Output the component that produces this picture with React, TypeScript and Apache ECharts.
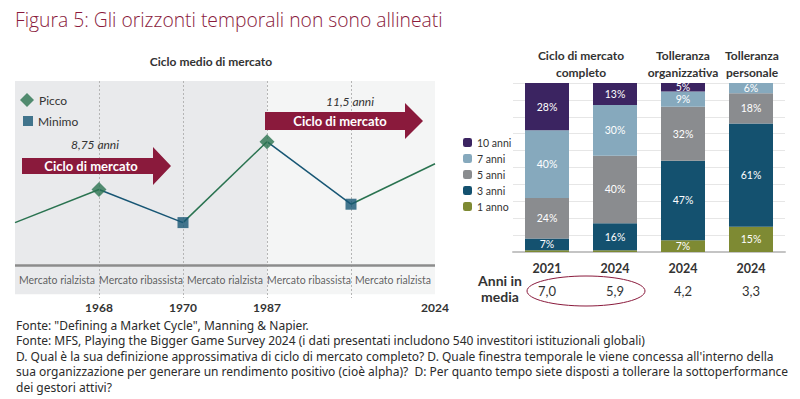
import React, { useEffect, useRef } from "react";
import * as echarts from "echarts";

// ---------- Left panel: average market cycle ----------
const cyclePositions = [0, 1, 2, 3, 4, 5];
const cycleLevels = [23, 41, 23, 67, 33, 55];
const peakIndex = [1, 3];
const troughIndex = [2, 4];
const cycleYears = ["", "1968", "1970", "1987", "", "2024"];
const phaseLabels = [
  "Mercato rialzista",
  "Mercato ribassista",
  "Mercato rialzista",
  "Mercato ribassista",
  "Mercato rialzista",
];
const cycleDurations = ["8,75 anni", "11,5 anni"];

// ---------- Right panel: horizons ----------
const barCategories = ["2021", "2024", "2024", "2024"];
const horizonNames = ["1 anno", "3 anni", "5 anni", "7 anni", "10 anni"];
const share1y = [1, 1, 7, 15];
const share3y = [7, 16, 47, 61];
const share5y = [24, 40, 32, 18];
const share7y = [40, 30, 9, 6];
const share10y = [28, 13, 5, 0.5];
const avgYears = ["7,0", "5,9", "4,2", "3,3"];

const footerLines = [
  'Fonte: "Defining a Market Cycle", Manning & Napier.',
  "Fonte: MFS, Playing the Bigger Game Survey 2024 (i dati presentati includono 540 investitori istituzionali globali)",
  "D. Qual è la sua definizione approssimativa di ciclo di mercato completo? D. Quale finestra temporale le viene concessa all'interno della",
  "sua organizzazione per generare un rendimento positivo (cioè alpha)?  D: Per quanto tempo siete disposti a tollerare la sottoperformance",
  "dei gestori attivi?",
];

const MAROON = "#8a1a3c";
const GREEN = "#2a7350";
const BLUE = "#175674";
const TXT = "#333333";
const FONT = "Lato, 'Noto Sans', sans-serif";
const horizonColors = ["#7e8a33", "#14516f", "#8a8c8f", "#86a9bd", "#3b2461"];

export default function App() {
  const ref = useRef<HTMLDivElement>(null);
  useEffect(() => {
    document.body.style.margin = "0";
    if (!ref.current) return;
    const chart = echarts.init(ref.current, undefined, { renderer: "svg" });

    const segs: any[] = [];
    for (let i = 0; i < cyclePositions.length - 1; i++) {
      const rising = cycleLevels[i + 1] > cycleLevels[i];
      segs.push({
        type: "line",
        xAxisIndex: 0,
        yAxisIndex: 0,
        symbol: "none",
        silent: true,
        z: 3,
        lineStyle: { color: rising ? GREEN : BLUE, width: 1.5 },
        data: [
          [cyclePositions[i], cycleLevels[i]],
          [cyclePositions[i + 1], cycleLevels[i + 1]],
        ],
      });
    }

    const shares = [share1y, share3y, share5y, share7y, share10y];
    const bars = horizonNames.map((name, k) => ({
      type: "bar",
      name,
      stack: "h",
      xAxisIndex: 1,
      yAxisIndex: 1,
      barWidth: 44,
      itemStyle: { color: horizonColors[k] },
      label: {
        show: true,
        position: "inside",
        color: "#ffffff",
        fontSize: 10.5,
        fontFamily: FONT,
        formatter: (p: any) => (p.value >= 5 ? `${p.value}%` : ""),
      },
      data: shares[k],
    }));

    const arrow = (x0: number, x1: number, xt: number, cy: number, hb: number, hh: number) => ({
      type: "polygon",
      shape: {
        points: [
          [x0, cy - hb],
          [x1, cy - hb],
          [x1, cy - hh],
          [xt, cy],
          [x1, cy + hh],
          [x1, cy + hb],
          [x0, cy + hb],
        ],
      },
      style: { fill: MAROON },
      z: 10,
    });

    const txt = (x: number, y: number, text: string, extra: any = {}) => ({
      type: "text",
      x,
      y,
      z: 11,
      style: {
        text,
        fill: TXT,
        fontFamily: FONT,
        fontSize: 12,
        align: "center",
        verticalAlign: "middle",
        ...extra,
      },
    });

    chart.setOption({
      animation: false,
      grid: [
        { left: 15, top: 81, width: 420, height: 217 },
        { left: 513, top: 83, width: 272, height: 169 },
      ],
      xAxis: [
        {
          type: "value",
          gridIndex: 0,
          min: 0,
          max: 5,
          interval: 1,
          axisLine: { show: false },
          axisTick: { show: false },
          splitLine: { show: false },
          axisLabel: {
            margin: 3,
            fontFamily: FONT,
            fontSize: 12,
            fontWeight: "bold",
            color: TXT,
            formatter: (v: number) => cycleYears[Math.round(v)] ?? "",
          },
        },
        {
          type: "category",
          gridIndex: 1,
          data: barCategories.map((_, i) => `c${i}`),
          axisLine: { lineStyle: { color: "#c4c4c4", width: 2 } },
          axisTick: { show: false },
          axisLabel: {
            margin: 10,
            fontFamily: FONT,
            fontSize: 12.5,
            fontWeight: "bold",
            color: TXT,
            formatter: (_: any, i: number) => barCategories[i],
          },
        },
        {
          type: "category",
          gridIndex: 1,
          position: "bottom",
          offset: 23,
          data: avgYears.map((_, i) => `a${i}`),
          axisLine: { show: false },
          axisTick: { show: false },
          axisLabel: {
            margin: 9,
            fontFamily: FONT,
            fontSize: 13,
            color: TXT,
            formatter: (_: any, i: number) => avgYears[i],
          },
        },
      ],
      yAxis: [
        { type: "value", gridIndex: 0, min: -18, max: 100, show: false },
        {
          type: "value",
          gridIndex: 1,
          min: 0,
          max: 100,
          interval: 10,
          axisLine: { show: false },
          axisTick: { show: false },
          axisLabel: { show: false },
          splitLine: { lineStyle: { color: "#e6e6e6", width: 1 } },
        },
      ],
      legend: [
        {
          data: ["Picco"],
          orient: "vertical",
          left: 15,
          top: 88,
          itemWidth: 14,
          itemHeight: 14,
          itemGap: 6,
          textStyle: { fontFamily: FONT, fontSize: 12, color: TXT },
          selectedMode: false,
        },
        {
          data: ["Minimo"],
          orient: "vertical",
          left: 18,
          top: 110,
          itemWidth: 10,
          itemHeight: 10,
          textStyle: { fontFamily: FONT, fontSize: 12, color: TXT },
          selectedMode: false,
        },
        {
          data: [...horizonNames].reverse(),
          orient: "vertical",
          left: 458,
          top: 132,
          itemWidth: 9,
          itemHeight: 9,
          itemGap: 5,
          textStyle: { fontFamily: FONT, fontSize: 10.5, color: TXT },
          selectedMode: false,
        },
      ],
      series: [
        {
          type: "line",
          xAxisIndex: 0,
          yAxisIndex: 0,
          data: [],
          silent: true,
          markArea: {
            silent: true,
            data: [
              [
                { xAxis: 0, yAxis: -16, itemStyle: { color: "#e9eaec" } },
                { xAxis: 3, yAxis: 100 },
              ],
              [
                { xAxis: 3, yAxis: -16, itemStyle: { color: "#f4f5f5" } },
                { xAxis: 5, yAxis: 100 },
              ],
            ],
          },
          markLine: {
            silent: true,
            symbol: "none",
            label: { show: false },
            data: [
              ...[1, 2, 3, 4].map((x) => [
                { coord: [x, 100], lineStyle: { color: "#b5b5b5", type: [2, 2], width: 1 } },
                { coord: [x, -18] },
              ]),
              [
                { coord: [0, 0], lineStyle: { color: "#8c8c8c", type: "solid", width: 2.5 } },
                { coord: [5, 0] },
              ],
            ],
          },
        },
        ...segs,
        {
          type: "scatter",
          name: "Picco",
          xAxisIndex: 0,
          yAxisIndex: 0,
          symbol: "diamond",
          symbolSize: 15,
          z: 5,
          itemStyle: { color: GREEN },
          data: peakIndex.map((i) => [cyclePositions[i], cycleLevels[i]]),
        },
        {
          type: "scatter",
          name: "Minimo",
          xAxisIndex: 0,
          yAxisIndex: 0,
          symbol: "rect",
          symbolSize: 11,
          z: 5,
          itemStyle: { color: BLUE },
          data: troughIndex.map((i) => [cyclePositions[i], cycleLevels[i]]),
        },
        {
          type: "scatter",
          name: "phases",
          xAxisIndex: 0,
          yAxisIndex: 0,
          symbolSize: 0,
          silent: true,
          label: {
            show: true,
            position: "inside",
            fontFamily: FONT,
            fontSize: 10.5,
            color: "#3a3a3a",
            formatter: (p: any) => phaseLabels[p.dataIndex],
          },
          data: phaseLabels.map((_, i) => [i + 0.5, -8]),
        },
        ...bars,
      ],
      graphic: [
        txt(15, 19, "Figura 5: Gli orizzonti temporali non sono allineati", {
          fill: MAROON,
          fontSize: 19.3,
          fontWeight: 300,
          align: "left",
          fontFamily: "'Open Sans', sans-serif",
        }),
        txt(211, 61, "Ciclo medio di mercato", { fontWeight: "bold", fontSize: 12 }),
        arrow(22, 153, 171, 166, 8, 19),
        arrow(265, 405, 423, 121, 9, 18),
        txt(91, 166, "Ciclo di mercato", { fill: "#fff", fontWeight: "bold", fontSize: 13 }),
        txt(340, 121, "Ciclo di mercato", { fill: "#fff", fontWeight: "bold", fontSize: 13 }),
        txt(95, 144, cycleDurations[0], { fontStyle: "italic", fontSize: 12 }),
        txt(350, 101, cycleDurations[1], { fontStyle: "italic", fontSize: 12 }),
        txt(581, 55, "Ciclo di mercato", { fontWeight: "bold", fontSize: 12 }),
        txt(581, 72, "completo", { fontWeight: "bold", fontSize: 12 }),
        txt(683, 55, "Tolleranza", { fontWeight: "bold", fontSize: 12 }),
        txt(683, 72, "organizzativa", { fontWeight: "bold", fontSize: 12 }),
        txt(752, 55, "Tolleranza", { fontWeight: "bold", fontSize: 12 }),
        txt(752, 72, "personale", { fontWeight: "bold", fontSize: 12 }),
        txt(500, 280, "Anni in", { fontWeight: "bold", fontSize: 14 }),
        txt(500, 296, "media", { fontWeight: "bold", fontSize: 14 }),
        {
          type: "ellipse",
          shape: { cx: 586, cy: 291, rx: 59, ry: 15 },
          style: { fill: "none", stroke: MAROON, lineWidth: 1 },
          z: 11,
        },
        ...footerLines.map((l, i) =>
          txt(16, 325 + i * 15.6, l, {
            align: "left",
            fontFamily: "'Noto Sans', sans-serif",
            fontSize: 12,
            fill: "#2b2b2b",
          })
        ),
      ],
    });
    return () => chart.dispose();
  }, []);
  return <div ref={ref} style={{ width: 800, height: 399 }} />;
}
